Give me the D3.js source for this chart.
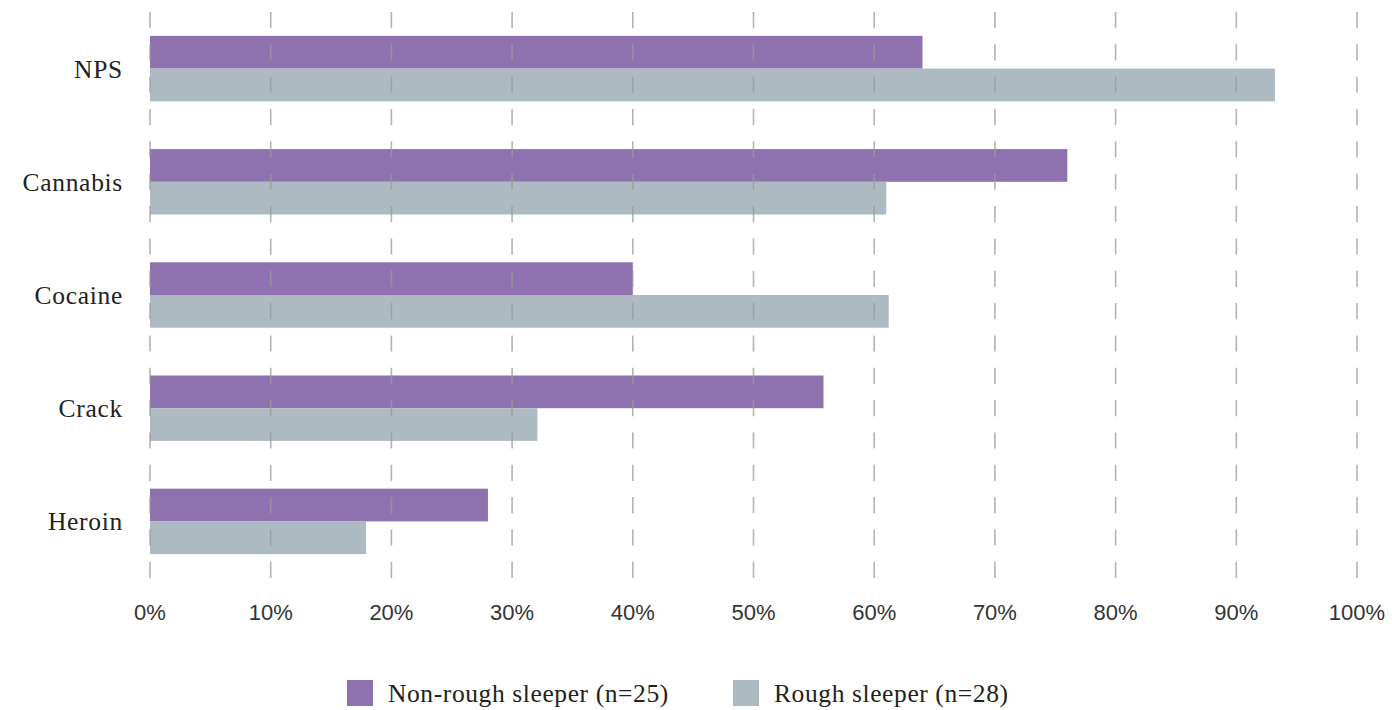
<!DOCTYPE html>
<html>
<head>
<meta charset="utf-8">
<script src="https://cdn.jsdelivr.net/npm/d3@7"></script>
<style>
  html, body { margin: 0; padding: 0; background: #fff; }
  svg { display: block; }
</style>
</head>
<body>
<svg id="chart" width="1392" height="710"></svg>
<script>
// Substances and share of each group reporting use (%)
const categories = ["NPS", "Cannabis", "Cocaine", "Crack", "Heroin"];
const nonRoughSleeper = [64, 76, 40, 55.8, 28];
const roughSleeper = [93.2, 61.0, 61.2, 32.1, 17.9];
const seriesNames = ["Non-rough sleeper (n=25)", "Rough sleeper (n=28)"];
const xTicks = [0, 10, 20, 30, 40, 50, 60, 70, 80, 90, 100];

const colors = ["#8e72b0", "#aebac2"];
const serif = "'Liberation Serif', 'DejaVu Serif', serif";
const sans = "'Liberation Sans', Arial, sans-serif";

const svg = d3.select("#chart");
const margin = { left: 150, right: 35, top: 12, bottom: 132 };
const W = 1392, H = 710;

const x = d3.scaleLinear().domain([0, 100]).range([margin.left, W - margin.right]);
const y = d3.scaleBand().domain(categories).range([margin.top, H - margin.bottom])
  .paddingInner(0.422).paddingOuter(0.211);
const sub = d3.scaleBand().domain([0, 1]).range([0, y.bandwidth()]);

const rows = categories.map((c, i) => ({ c, vals: [nonRoughSleeper[i], roughSleeper[i]] }));

// Bars
const groups = svg.append("g").selectAll("g").data(rows).join("g")
  .attr("transform", d => `translate(0,${y(d.c)})`);
groups.selectAll("rect").data(d => d.vals).join("rect")
  .attr("x", x(0))
  .attr("y", (d, i) => sub(i))
  .attr("width", d => x(d) - x(0))
  .attr("height", sub.bandwidth())
  .attr("fill", (d, i) => colors[i]);

// Dashed vertical grid drawn over the bars
svg.append("g").selectAll("line").data(xTicks).join("line")
  .attr("x1", d => x(d)).attr("x2", d => x(d))
  .attr("y1", margin.top).attr("y2", H - margin.bottom)
  .attr("stroke", "#9a9a9a")
  .attr("stroke-opacity", 0.75)
  .attr("stroke-width", 1.6)
  .attr("stroke-dasharray", "16.17,16.17");

// Category labels
svg.append("g").selectAll("text").data(categories).join("text")
  .attr("x", 123)
  .attr("y", d => y(d) + y.bandwidth() / 2)
  .attr("dy", "0.35em")
  .attr("text-anchor", "end")
  .attr("font-family", serif)
  .attr("font-size", 25.5)
  .attr("letter-spacing", 0.7)
  .attr("fill", "#222")
  .text(d => d);

// X tick labels
svg.append("g").selectAll("text").data(xTicks).join("text")
  .attr("x", d => x(d))
  .attr("y", 612)
  .attr("dy", "0.35em")
  .attr("text-anchor", "middle")
  .attr("font-family", sans)
  .attr("font-size", 22)
  .attr("fill", "#333")
  .text(d => d + "%");

// Legend
const legendX = [347, 733];
const legend = svg.append("g").selectAll("g").data(seriesNames).join("g")
  .attr("transform", (d, i) => `translate(${legendX[i]},680)`);
legend.append("rect").attr("width", 26).attr("height", 26).attr("fill", (d, i) => colors[i]);
legend.append("text")
  .attr("x", 41).attr("y", 13).attr("dy", "0.35em")
  .attr("font-family", serif)
  .attr("font-size", 25.5)
  .attr("letter-spacing", 0.6)
  .attr("fill", "#222")
  .text(d => d);
</script>
</body>
</html>
